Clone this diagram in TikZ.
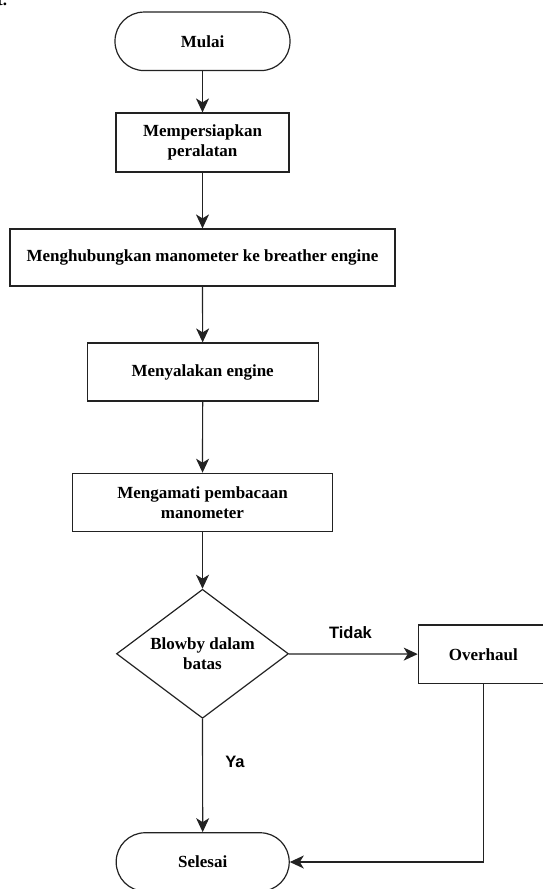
\documentclass[tikz,border=0pt]{standalone}
\usepackage{fontspec}
\setmainfont{Liberation Serif}
\newfontfamily\lblfont{Liberation Sans}
\usetikzlibrary{shapes.geometric,arrows.meta}
\definecolor{ink}{HTML}{222222}
\tikzset{
  txt/.style={font=\fontsize{17}{20.5}\selectfont\bfseries, align=center, inner sep=0pt, text=black},
  proc/.style={txt, draw=ink, line width=1.2pt, rectangle, minimum height=58pt},
  term/.style={txt, draw=ink, line width=1.2pt, rectangle, rounded corners=29pt, minimum height=58.5pt},
  decision/.style={txt, draw=ink, line width=1.2pt, diamond, aspect=1.333, minimum width=172pt, minimum height=129pt},
  lbl/.style={font=\lblfont\fontsize{16.5}{19}\selectfont\bfseries, inner sep=0pt, text=black},
  arr/.style={draw=ink, line width=1.2pt, -{Stealth[length=14pt, width=13pt, inset=4pt]}},
}
\begin{document}
\begin{tikzpicture}[x=1pt, y=-1pt]
\useasboundingbox (0,0) rectangle (543,889);
\node[txt, anchor=base west] (frag) at (-3,5) {t.};
\node[term, minimum width=175pt] (mulai) at (202.5,41.3) {Mulai};
\node[proc, minimum width=173pt, minimum height=59pt] (siap) at (202.5,142.5) {Mempersiapkan\\peralatan};
\node[proc, minimum width=385pt, minimum height=57pt] (hub) at (202.5,257.5) {Menghubungkan manometer ke breather engine};
\node[proc, minimum width=231pt] (nyala) at (202.7,372) {Menyalakan engine};
\node[proc, minimum width=259.6pt, minimum height=58.4pt] (amati) at (202.5,502.5) {Mengamati pembacaan\\manometer};
\node[decision] (cek) at (202.5,653.8) {Blowby dalam\\batas};
\node[proc, minimum width=130pt, minimum height=58.3pt] (over) at (483.3,654.2) {Overhaul};
\node[term, minimum width=173pt] (selesai) at (202.7,862) {Selesai};
\node[lbl] (tidak) at (350.5,632.5) {Tidak};
\node[lbl] (ya) at (235,761.7) {Ya};
\draw[arr] (mulai) -- (siap);
\draw[arr] (siap) -- (hub);
\draw[arr] (hub) -- (nyala);
\draw[arr] (nyala) -- (amati);
\draw[arr] (amati) -- (cek);
\draw[arr] (cek) -- (over);
\draw[arr] (cek) -- (selesai);
\draw[arr] (over.south) |- (selesai.east);
\end{tikzpicture}
\end{document}
